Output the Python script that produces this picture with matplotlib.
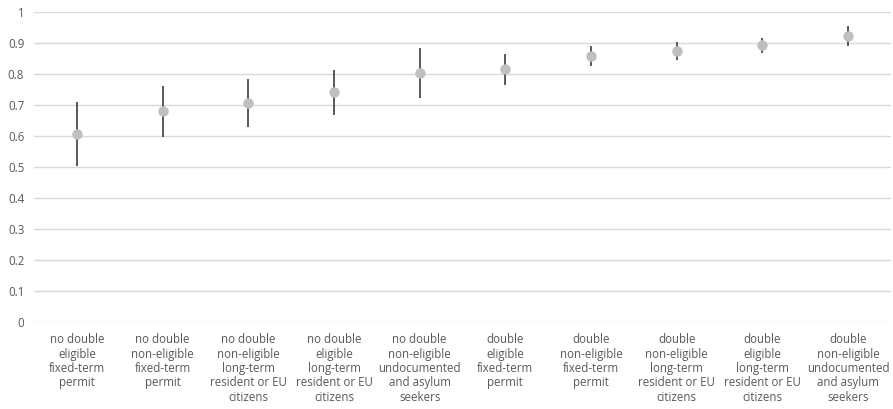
import matplotlib
matplotlib.use("Agg")
import matplotlib.pyplot as plt
import numpy as np

# categories (x axis)
categories = [
    "no double\neligible\nfixed-term\npermit",
    "no double\nnon-eligible\nfixed-term\npermit",
    "no double\nnon-eligible\nlong-term\nresident or EU\ncitizens",
    "no double\neligible\nlong-term\nresident or EU\ncitizens",
    "no double\nnon-eligible\nundocumented\nand asylum\nseekers",
    "double\neligible\nfixed-term\npermit",
    "double\nnon-eligible\nfixed-term\npermit",
    "double\nnon-eligible\nlong-term\nresident or EU\ncitizens",
    "double\neligible\nlong-term\nresident or EU\ncitizens",
    "double\nnon-eligible\nundocumented\nand asylum\nseekers",
]

# point estimates and interval bounds
estimates = [0.607, 0.682, 0.708, 0.743, 0.805, 0.816, 0.860, 0.875, 0.894, 0.925]
upper = [0.710, 0.762, 0.785, 0.814, 0.886, 0.865, 0.891, 0.904, 0.916, 0.956]
lower = [0.505, 0.599, 0.631, 0.669, 0.723, 0.766, 0.828, 0.846, 0.870, 0.892]

yticks = [0, 0.1, 0.2, 0.3, 0.4, 0.5, 0.6, 0.7, 0.8, 0.9, 1]
ytick_labels = ["0", "0.1", "0.2", "0.3", "0.4", "0.5", "0.6", "0.7", "0.8", "0.9", "1"]

plt.rcParams["font.family"] = ["Open Sans", "DejaVu Sans"]

fig = plt.figure(figsize=(8.93, 4.09), dpi=100)
ax = fig.add_axes([34 / 893, 1 - 322.3 / 409, 857 / 893, 310 / 409])

x = np.arange(len(categories))
est = np.array(estimates)
yerr = np.vstack([est - np.array(lower), np.array(upper) - est])

#error bars first, then the markers on top
ax.errorbar(x, est, yerr=yerr, fmt="none", ecolor="#595959", elinewidth=1.4, capsize=0, zorder=2)
ax.plot(x, est, "o", color="#BFBFBF", markersize=7.5, markeredgewidth=0, zorder=3)

ax.set_xlim(-0.5, len(categories) - 0.5)
ax.set_ylim(0, 1)
ax.set_yticks(yticks)
ax.set_yticklabels(ytick_labels)
ax.set_xticks(x)
ax.set_xticklabels(categories, linespacing=1.13)

ax.yaxis.grid(True, color="#D9D9D9", linewidth=1)
ax.set_axisbelow(True)
for s in ax.spines.values():
    s.set_visible(False)
ax.tick_params(axis="both", length=0, colors="#595959", labelsize=8.3)
ax.tick_params(axis="y", pad=7)
ax.tick_params(axis="x", pad=8)

fig.savefig("out.png", dpi=100)
